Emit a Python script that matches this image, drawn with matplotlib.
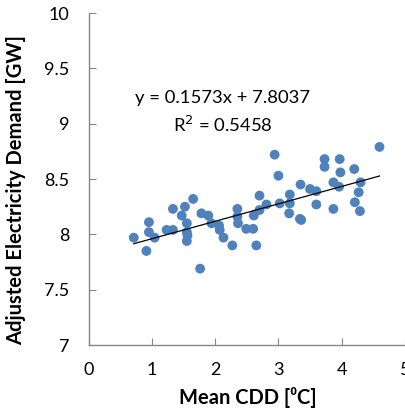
import matplotlib
matplotlib.use('Agg')
import numpy as np
from matplotlib import pyplot as plt

# Данные
cdd = [0.71, 0.95, 0.95, 0.91, 1.04, 1.23, 1.33, 1.33, 1.47, 1.52,
       1.55, 1.55, 1.56, 1.55, 1.65, 1.76, 1.78, 1.89, 1.94, 2.06,
       2.07, 2.13, 2.27, 2.35, 2.35, 2.36, 2.49, 2.60, 2.65, 2.61,
       2.70, 2.70, 2.81, 2.94, 3.00, 3.02, 3.18, 3.18, 3.17, 3.34,
       3.36, 3.35, 3.50, 3.60, 3.60, 3.73, 3.73, 3.87, 3.87, 3.96,
       3.97, 3.98, 4.20, 4.21, 4.27, 4.30, 4.29, 4.60]
demand = [7.97, 8.11, 8.02, 7.85, 7.97, 8.04, 8.04, 8.23, 8.17, 8.25,
          8.10, 8.02, 7.99, 7.94, 8.32, 7.69, 8.19, 8.17, 8.10, 8.08,
          8.04, 7.97, 7.90, 8.23, 8.16, 8.10, 8.05, 8.05, 7.90, 8.17,
          8.35, 8.22, 8.27, 8.72, 8.53, 8.28, 8.36, 8.28, 8.19, 8.14,
          8.13, 8.45, 8.41, 8.39, 8.27, 8.68, 8.61, 8.47, 8.23, 8.43,
          8.68, 8.56, 8.59, 8.29, 8.38, 8.47, 8.21, 8.79]
slope, intercept, r2 = 0.1573, 7.8037, 0.5458

plt.rcParams['font.family'] = ['Lato', 'DejaVu Sans']

fig = plt.figure(figsize=(4.06, 4.12), dpi=100)
ax = fig.add_axes([0.219, 0.1626, 0.778, 0.8058])

ax.scatter(cdd, demand, s=50, c='#4F81BD', edgecolors='none', zorder=3)

# Линия тренда
xs = np.array([min(cdd), max(cdd)])
ax.plot(xs, slope * xs + intercept, c='black', lw=0.9, zorder=4)

ax.text(2.12, 9.23, f"y = {slope}x + {intercept}", ha='center', va='center',
        fontsize=13.3)
ax.text(2.12, 8.99, f"R$^2$ = {r2}", ha='center', va='center', fontsize=13.3)

# Оформление
ax.set_xlim(0, 5)
ax.set_ylim(7, 10)
ax.set_xticks([0, 1, 2, 3, 4, 5])
ax.set_yticks([7, 7.5, 8, 8.5, 9, 9.5, 10])
ax.set_yticklabels(['7', '7.5', '8', '8.5', '9', '9.5', '10'])
for side in ['top', 'right']:
    ax.spines[side].set_visible(False)
for side in ['left', 'bottom']:
    ax.spines[side].set_color('#868686')
    ax.spines[side].set_linewidth(1.0)
ax.tick_params(axis='both', direction='in', length=5, color='#868686',
               labelsize=13, pad=12)
ax.tick_params(axis='y', pad=14)

ax.set_xlabel('Mean CDD [⁰C]', fontsize=14.5, fontweight='bold')
ax.set_ylabel('Adjusted Electricity Demand [GW]', fontsize=14.5,
              fontweight='bold')
ax.xaxis.set_label_coords(0.503, -0.125)
ax.yaxis.set_label_coords(-0.2, 0.467)

plt.savefig('out.png')
